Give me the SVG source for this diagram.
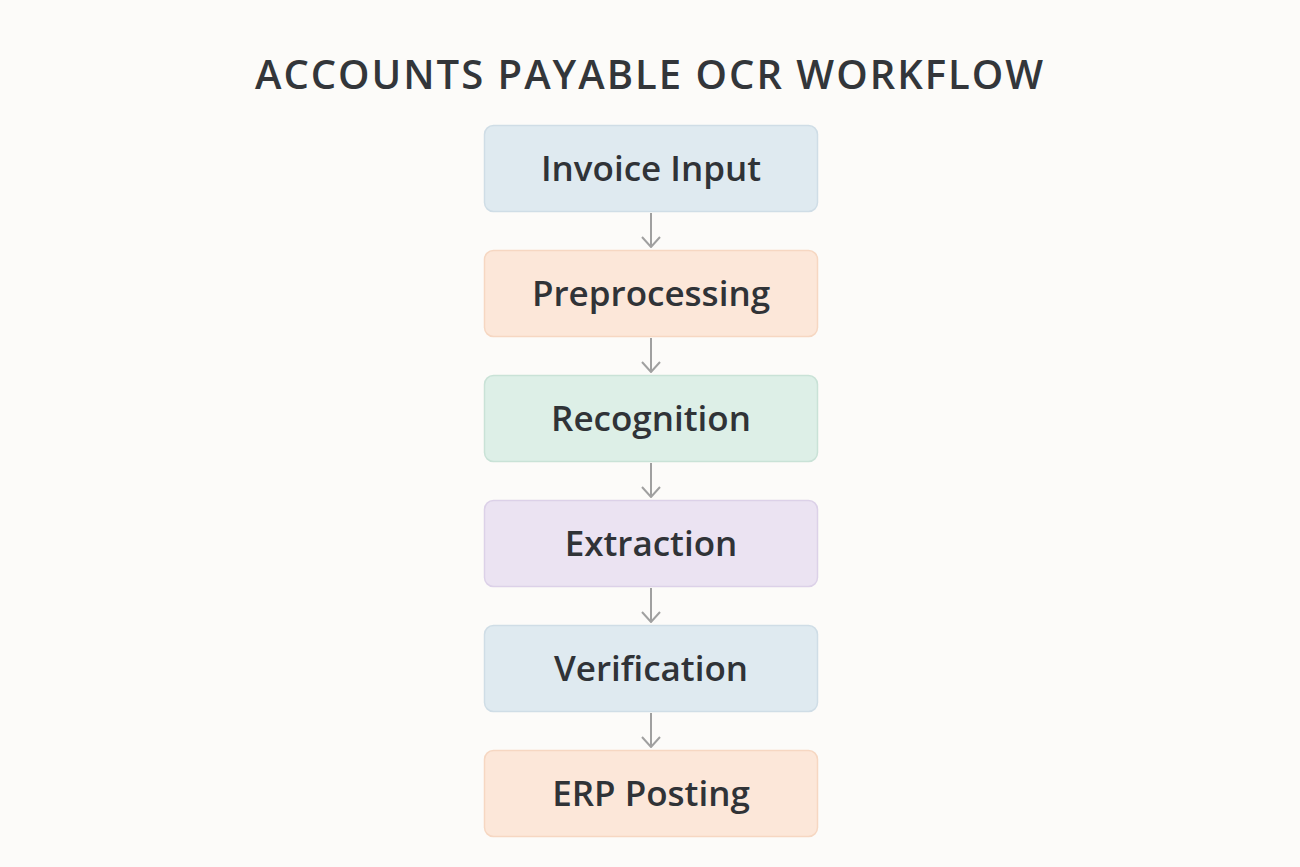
<svg xmlns="http://www.w3.org/2000/svg" width="1300" height="867" viewBox="0 0 1300 867">
<defs>
<style>
.title{font-family:"Open Sans","Noto Sans",sans-serif;font-size:40px;font-weight:600;fill:#33363a;letter-spacing:2px}
.box{stroke-width:1.5}
.lbl{font-family:"Open Sans","Noto Sans",sans-serif;font-size:35px;font-weight:600;fill:#303337}
.blue{fill:#dfeaf0;stroke:#cfdde6}
.orange{fill:#fce7d9;stroke:#f6d7c2}
.green{fill:#ddefe7;stroke:#c9e2d7}
.purple{fill:#ebe3f2;stroke:#dcd1e8}
.conn{stroke:#a0a0a0;stroke-width:2;fill:none}
</style>
<marker id="arr" viewBox="0 0 12 20" refX="11" refY="10" markerWidth="12" markerHeight="20" markerUnits="userSpaceOnUse" orient="auto">
<path d="M1,1 L11,10 L1,19" fill="none" stroke="#a0a0a0" stroke-width="2"/>
</marker>
</defs>
<rect width="1300" height="867" fill="#fcfbf9"/>
<text class="title" x="650" y="89" text-anchor="middle">ACCOUNTS PAYABLE OCR WORKFLOW</text>
<g id="connectors">
<path class="conn" d="M651,213 V247" marker-end="url(#arr)"/>
<path class="conn" d="M651,338 V372" marker-end="url(#arr)"/>
<path class="conn" d="M651,463 V497" marker-end="url(#arr)"/>
<path class="conn" d="M651,588 V622" marker-end="url(#arr)"/>
<path class="conn" d="M651,713 V747" marker-end="url(#arr)"/>
</g>
<g id="node-invoice-input"><rect class="box blue" x="484.5" y="125.5" width="333" height="86" rx="9"/><text class="lbl" x="651" y="181" text-anchor="middle">Invoice Input</text></g>
<g id="node-preprocessing"><rect class="box orange" x="484.5" y="250.5" width="333" height="86" rx="9"/><text class="lbl" x="651" y="306" text-anchor="middle">Preprocessing</text></g>
<g id="node-recognition"><rect class="box green" x="484.5" y="375.5" width="333" height="86" rx="9"/><text class="lbl" x="651" y="431" text-anchor="middle">Recognition</text></g>
<g id="node-extraction"><rect class="box purple" x="484.5" y="500.5" width="333" height="86" rx="9"/><text class="lbl" x="651" y="556" text-anchor="middle">Extraction</text></g>
<g id="node-verification"><rect class="box blue" x="484.5" y="625.5" width="333" height="86" rx="9"/><text class="lbl" x="651" y="681" text-anchor="middle">Verification</text></g>
<g id="node-erp-posting"><rect class="box orange" x="484.5" y="750.5" width="333" height="86" rx="9"/><text class="lbl" x="651" y="806" text-anchor="middle">ERP Posting</text></g>
</svg>
